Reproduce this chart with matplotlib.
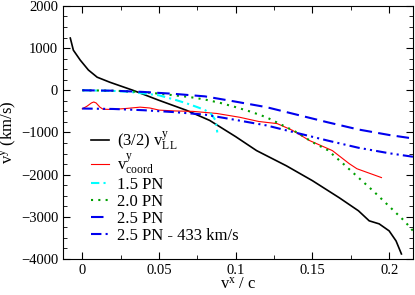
import numpy as np
import matplotlib.pyplot as plt
from matplotlib.ticker import MultipleLocator

plt.rcParams['font.family'] = ['Liberation Serif', 'DejaVu Serif']
plt.rcParams['mathtext.fontset'] = 'custom'
plt.rcParams['mathtext.rm'] = 'Liberation Serif'
plt.rcParams['mathtext.it'] = 'Liberation Serif:italic'

# (3/2) v^y_LL
x_ll = [-0.0078, -0.0058, -0.0013, 0.004, 0.0097, 0.018, 0.033, 0.05, 0.068,
        0.083, 0.1, 0.1136, 0.133, 0.15, 0.1675, 0.18, 0.187, 0.1935, 0.2,
        0.2045, 0.208]
y_ll = [1238, 950, 714, 480, 310, 190, 0, -238, -476, -714, -1100, -1430,
        -1790, -2143, -2548, -2857, -3095, -3167, -3333, -3571, -3880]

# v^y_coord
x_coord = [0.0, 0.003, 0.006, 0.0075, 0.009, 0.0115, 0.0136, 0.02, 0.029,
           0.0377, 0.044, 0.05, 0.06, 0.072, 0.0877, 0.1026, 0.115, 0.127,
           0.137, 0.148, 0.163, 0.174, 0.179, 0.195]
y_coord = [-440, -380, -300, -278, -300, -400, -450, -455, -430, -400, -420,
           -470, -490, -500, -550, -640, -740, -790, -950, -1190, -1430,
           -1740, -1860, -2070]

# 1.5 PN
x_15 = [0.0, 0.02, 0.03, 0.04, 0.05, 0.06, 0.068, 0.075, 0.08, 0.084, 0.087,
        0.088]
y_15 = [0, -15, -35, -75, -120, -220, -310, -400, -470, -560, -720, -1000]

# 2.0 PN
x_20 = [0.0, 0.02, 0.03, 0.04, 0.05, 0.06, 0.07, 0.08, 0.09, 0.1, 0.11, 0.12,
        0.13, 0.14, 0.15, 0.16, 0.17, 0.18, 0.19, 0.2, 0.21, 0.2155]
y_20 = [0, -10, -25, -45, -80, -120, -160, -220, -300, -400, -510, -640,
        -820, -1000, -1230, -1420, -1740, -2070, -2400, -2750, -3100, -3330]

# 2.5 PN
x_25 = [0.0, 0.02, 0.04, 0.06, 0.08, 0.1, 0.12, 0.14, 0.16, 0.18, 0.2, 0.2155]
y_25 = [0, -10, -40, -85, -145, -270, -400, -580, -760, -930, -1060, -1143]
shift = 433

fig, ax = plt.subplots(figsize=(4.15, 2.95), dpi=100)
fig.subplots_adjust(left=0.152, right=0.995, top=0.98, bottom=0.122)

ax.plot(x_ll, y_ll, '-', color='black', lw=1.2,
        label=r'(3/2) v$^{\rm y}_{\rm LL}$')
ax.plot(x_coord, y_coord, '-', color='red', lw=0.8,
        label=r'v$^{\rm y}_{\rm coord}$')
ax.plot(x_15, y_15, color='cyan', lw=1.5, dashes=(4, 2, 1, 2),
        label='1.5 PN')
ax.plot(x_20, y_20, color='#00a000', lw=1.5, dashes=(1, 2.5),
        label='2.0 PN')
ax.plot(x_25, y_25, color='#0000ee', lw=1.5, dashes=(6, 3),
        label='2.5 PN')
ax.plot(x_25, np.array(y_25) - shift, color='#0000ee', lw=1.5,
        dashes=(5, 2, 1, 2, 1, 2), label='2.5 PN - 433 km/s')

ax.set_xlim(-0.0125, 0.2155)
ax.set_ylim(-4000, 2000)
ax.xaxis.set_major_locator(MultipleLocator(0.05))
ax.xaxis.set_minor_locator(MultipleLocator(0.025))
ax.yaxis.set_major_locator(MultipleLocator(1000))
ax.yaxis.set_minor_locator(MultipleLocator(250))
ax.set_xticks([0, 0.05, 0.1, 0.15, 0.2])
ax.set_xticklabels(['0', '0.05', '0.1', '0.15', '0.2'])
ax.tick_params(which='both', direction='in', top=True, right=True,
               labelsize=10.5)
ax.tick_params(which='major', length=5)
ax.tick_params(which='minor', length=3)

ax.set_xlabel(r'v$^{\rm x}$ / c', fontsize=12, labelpad=0)
ax.set_ylabel(r'v$^{\rm y}$ (km/s)', fontsize=12, labelpad=2)

ax.legend(loc='upper left', bbox_to_anchor=(0.06, 0.54), frameon=False,
          fontsize=12, handlelength=1.1, handletextpad=0.5, labelspacing=0.05,
          borderaxespad=0)

fig.savefig('out.png', dpi=100)
